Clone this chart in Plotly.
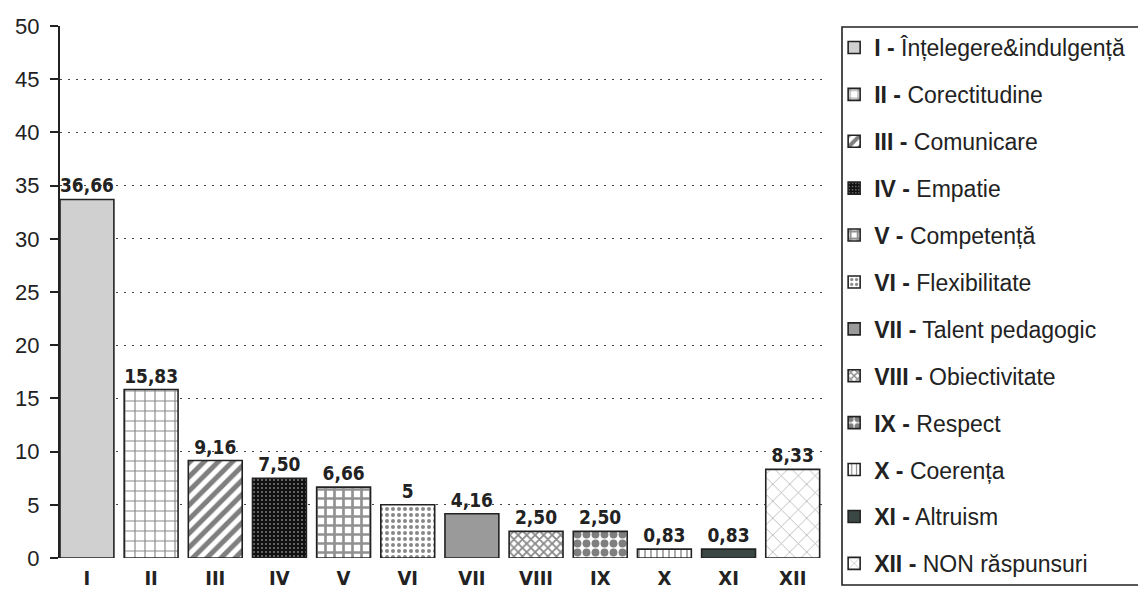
import plotly.graph_objects as go

categories = ["I", "II", "III", "IV", "V", "VI", "VII", "VIII", "IX", "X", "XI", "XII"]
names = ["Înțelegere&indulgență", "Corectitudine", "Comunicare", "Empatie", "Competență",
         "Flexibilitate", "Talent pedagogic", "Obiectivitate", "Respect", "Coerența",
         "Altruism", "NON răspunsuri"]
heights = [33.7, 15.83, 9.16, 7.50, 6.66, 5.0, 4.16, 2.50, 2.50, 0.83, 0.83, 8.33]
labels = ["36,66", "15,83", "9,16", "7,50", "6,66", "5", "4,16", "2,50", "2,50", "0,83", "0,83", "8,33"]
y_ticks = [0, 5, 10, 15, 20, 25, 30, 35, 40, 45, 50]

# styles (fill colour, pattern)
styles = [
    dict(color="#d0d0d0", pattern=dict(shape="")),
    dict(color="white", pattern=dict(shape="+", fgcolor="#111", bgcolor="white", size=10, solidity=0.22)),
    dict(color="white", pattern=dict(shape="/", fgcolor="#000", bgcolor="white", size=10, solidity=0.5)),
    dict(color="#111", pattern=dict(shape=".", fgcolor="#e8e8e8", bgcolor="#111", size=4, solidity=0.2)),
    dict(color="white", pattern=dict(shape="+", fgcolor="#222", bgcolor="white", size=9, solidity=0.5)),
    dict(color="white", pattern=dict(shape=".", fgcolor="#111", bgcolor="white", size=6, solidity=0.35)),
    dict(color="#9a9a9a", pattern=dict(shape="")),
    dict(color="white", pattern=dict(shape="x", fgcolor="#111", bgcolor="white", size=6, solidity=0.5)),
    dict(color="white", pattern=dict(shape=".", fgcolor="#000", bgcolor="white", size=9, solidity=0.6)),
    dict(color="white", pattern=dict(shape="|", fgcolor="#222", bgcolor="white", size=6, solidity=0.25)),
    dict(color="#3b4745", pattern=dict(shape="")),
    dict(color="white", pattern=dict(shape="x", fgcolor="#555", bgcolor="white", size=12, solidity=0.12)),
]

BAR_FONT = "DejaVu Sans Condensed, DejaVu Sans, sans-serif"
TXT_FONT = "Liberation Sans, Arial, sans-serif"

# the page body adds an 8px offset; figure is sized to compensate
OFF = 8
W, H = 1146 - OFF, 590 - OFF
PL, PR, PT, PB = 60, 828, 26, 558  # plot area on the page

fig = go.Figure()
for i, cat in enumerate(categories):
    st = styles[i]
    fig.add_trace(go.Bar(
        x=[i], y=[heights[i]], width=0.84,
        name=f"<b>{cat} -</b> {names[i]}",
        legendgroup=cat,
        text=[labels[i]], textposition="outside", cliponaxis=False,
        textfont=dict(family=BAR_FONT, size=19, color="#222", weight="bold"),
        marker=dict(color=st["color"], pattern=st["pattern"],
                    line=dict(color="#222", width=1.6)),
        showlegend=True,
    ))

pw, ph = PR - PL, PB - PT
fig.update_layout(
    width=W, height=H,
    paper_bgcolor="white", plot_bgcolor="white",
    margin=dict(l=PL - OFF, r=W - (PR - OFF), t=PT - OFF, b=H - (PB - OFF), autoexpand=False),
    barmode="overlay",
    showlegend=True,
    legend=dict(
        x=1.008, xanchor="left", y=1.0, yanchor="top",
        font=dict(family=TXT_FONT, size=23, color="#222"),
        bgcolor="rgba(0,0,0,0)", borderwidth=0,
        tracegroupgap=14, itemwidth=30, maxheight=1000,
    ),
    xaxis=dict(
        range=[-0.42, 11.55],
        tickmode="array", tickvals=list(range(len(categories))), ticktext=categories,
        tickfont=dict(family=BAR_FONT, size=20, color="#222", weight="bold"),
        showgrid=False, zeroline=False, showline=False,
        ticks="outside", ticklen=2, tickcolor="rgba(0,0,0,0)",
    ),
    yaxis=dict(
        range=[0, 50], tickmode="array", tickvals=y_ticks,
        tickfont=dict(family=TXT_FONT, size=22, color="#222"),
        showgrid=True, gridcolor="#444", gridwidth=1.3, griddash="2px,6px",
        zeroline=False, showline=True, linecolor="#222", linewidth=2,
        ticks="outside", ticklen=8, tickwidth=1.5, tickcolor="#222",
        ticklabelstandoff=6,
    ),
    shapes=[dict(type="rect", xref="paper", yref="paper",
                 x0=(842 - PL) / pw, x1=(1170 - PL) / pw,
                 y0=(PB - 585) / ph, y1=(PB - 27) / ph,
                 line=dict(color="#222", width=1.6), fillcolor="rgba(0,0,0,0)")],
)

fig.write_html("out.html")
